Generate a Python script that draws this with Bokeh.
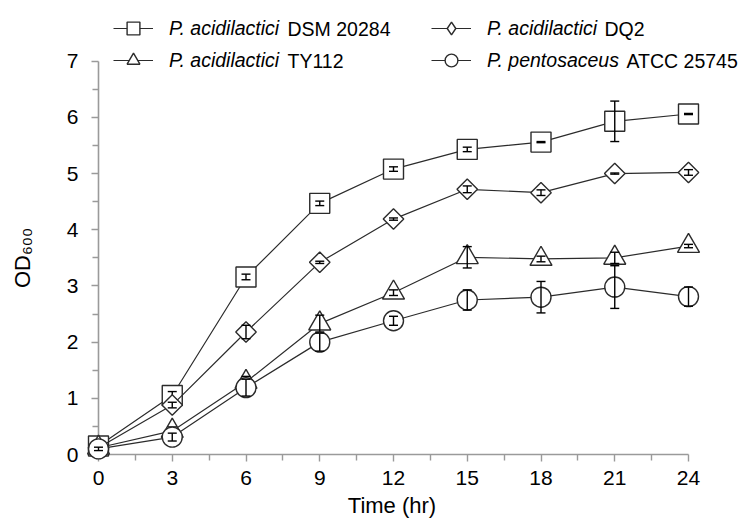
import math

from bokeh.embed import file_html
from bokeh.resources import INLINE
from bokeh.plotting import figure
from bokeh.models import (ColumnDataSource, FixedTicker, Label, Legend,
                          LegendItem, Range1d)

# Sampling times (hr)
time_hr = [0, 3, 6, 9, 12, 15, 18, 21, 24]

# Mean OD600 for each strain
od_dsm20284 = [0.15, 1.05, 3.16, 4.47, 5.08, 5.43, 5.56, 5.93, 6.06]
od_dq2 = [0.12, 0.88, 2.18, 3.42, 4.19, 4.72, 4.66, 5.00, 5.02]
od_ty112 = [0.12, 0.42, 1.29, 2.33, 2.88, 3.51, 3.48, 3.50, 3.71]
od_atcc25745 = [0.10, 0.31, 1.19, 2.00, 2.38, 2.75, 2.80, 2.98, 2.81]

# Standard deviations
sd_dsm20284 = [0.03, 0.07, 0.05, 0.04, 0.04, 0.04, 0.01, 0.36, 0.01]
sd_dq2 = [0.03, 0.05, 0.12, 0.02, 0.02, 0.06, 0.05, 0.01, 0.05]
sd_ty112 = [0.03, 0.07, 0.10, 0.15, 0.05, 0.19, 0.05, 0.10, 0.03]
sd_atcc25745 = [0.03, 0.07, 0.15, 0.16, 0.08, 0.18, 0.28, 0.38, 0.17]

x_ticks = [0, 3, 6, 9, 12, 15, 18, 21, 24]
x_minor = [1.5, 4.5, 7.5, 10.5, 13.5, 16.5, 19.5, 22.5]
y_ticks = [0, 1, 2, 3, 4, 5, 6, 7]
y_minor = [0.5, 1.5, 2.5, 3.5, 4.5, 5.5, 6.5]

FONT = "'Liberation Sans', Arial, sans-serif"
AXIS_GREY = "#9a9a9a"
INK = "#2b2b2b"
NBSP = "\u00a0"

# Frame geometry: x 0..24 spans 98..688 px, y 0..7 spans 454..61 px
px_per_hr = 590 / 24
px_per_od = 393.3 / 7
frame_w = 740 - 98
frame_h = 454

p = figure(width=740, height=527,
           x_range=Range1d(0, frame_w / px_per_hr),
           y_range=Range1d(0, frame_h / px_per_od),
           output_backend="svg", toolbar_location=None,
           min_border_left=98, min_border_right=0,
           min_border_top=0, min_border_bottom=73)
p.outline_line_color = None
p.background_fill_color = "white"
p.border_fill_color = "white"
p.xgrid.visible = False
p.ygrid.visible = False

for ax in (p.xaxis[0], p.yaxis[0]):
    ax.axis_line_color = AXIS_GREY
    ax.axis_line_width = 1.6
    ax.major_tick_line_color = AXIS_GREY
    ax.minor_tick_line_color = AXIS_GREY
    ax.major_tick_line_width = 1.4
    ax.minor_tick_line_width = 1.4
    ax.major_tick_in = 0
    ax.minor_tick_in = 0
    ax.major_tick_out = 7
    ax.minor_tick_out = 6
    ax.major_label_text_font = FONT
    ax.major_label_text_font_size = "21px"
    ax.major_label_text_color = "black"
    ax.axis_label_text_font = FONT
    ax.axis_label_text_font_style = "normal"
    ax.axis_label_text_color = "black"

p.xaxis.bounds = (0, 24)
p.yaxis.bounds = (0, 7)
p.xaxis.ticker = FixedTicker(ticks=x_ticks, minor_ticks=x_minor)
p.yaxis.ticker = FixedTicker(ticks=y_ticks, minor_ticks=y_minor)
p.xaxis.major_label_standoff = 9
p.yaxis.major_label_standoff = 13
# axis titles are centred on the whole frame; trailing no-break spaces
# bring them back over the 0-24 / 0-7 spans of the axes
p.xaxis.axis_label = "Time (hr)" + NBSP * 9
p.xaxis.axis_label_text_font_size = "22px"
p.xaxis.axis_label_standoff = 5
p.yaxis.axis_label = "OD\u2086\u2080\u2080" + NBSP * 10
p.yaxis.axis_label_text_font_size = "22px"
p.yaxis.axis_label_standoff = 29

series = [
    ("P. acidilactici", "DSM 20284", od_dsm20284, sd_dsm20284,
     dict(marker="square", size=20, angle=0.0)),
    ("P. acidilactici", "DQ2", od_dq2, sd_dq2,
     dict(marker="square", size=14.5, angle=math.pi / 4)),
    ("P. acidilactici", "TY112", od_ty112, sd_ty112,
     dict(marker="triangle", size=22, angle=0.0)),
    ("P. pentosaceus", "ATCC 25745", od_atcc25745, sd_atcc25745,
     dict(marker="circle", size=20, angle=0.0)),
]

items = []
for species, strain, mean, sd, mk in series:
    src = ColumnDataSource(dict(
        t=time_hr, m=mean,
        lo=[a - b for a, b in zip(mean, sd)],
        hi=[a + b for a, b in zip(mean, sd)],
    ))
    line_r = p.line("t", "m", source=src, line_color=INK, line_width=1.2,
                    level="overlay")
    mark_r = p.scatter("t", "m", source=src, marker=mk["marker"],
                       size=mk["size"], angle=mk["angle"],
                       fill_color="white", line_color=INK, line_width=1.4,
                       level="overlay")
    p.segment("t", "lo", "t", "hi", source=src, line_color="black",
              line_width=1.4, level="overlay")
    p.scatter("t", "lo", source=src, marker="dash", size=9,
              line_color="black", line_width=1.4, level="overlay")
    p.scatter("t", "hi", source=src, marker="dash", size=9,
              line_color="black", line_width=1.4, level="overlay")
    if mk["marker"] == "square" and mk["angle"] != 0.0:
        # legend swatch: an upright diamond, kept outside the visible ranges
        key_r = p.scatter(x=[-50], y=[-50], marker="diamond", size=12,
                          fill_color="white", line_color=INK, line_width=1.4)
    else:
        key_r = mark_r
    items.append((species, strain, LegendItem(label=species,
                                              renderers=[line_r, key_r])))


def make_legend(entries, x, y):
    leg = Legend(items=[e[2] for e in entries], location=(x, y),
                 orientation="vertical",
                 glyph_width=40, glyph_height=32, label_height=32,
                 label_standoff=16, spacing=0, padding=0, margin=0,
                 border_line_color=None, background_fill_alpha=0,
                 label_text_font=FONT, label_text_font_size="19.5px",
                 label_text_font_style="italic", label_text_color="black")
    p.add_layout(leg)


# two legend columns above the plot area
make_legend([items[0], items[2]], 15, 378)
make_legend([items[1], items[3]], 333, 378)

# strain names in upright type after the italic species names
strain_pos = [(189, 426), (506, 426), (189, 394), (528, 394)]
for (species, strain, _), (sx, sy) in zip(items, strain_pos):
    p.add_layout(Label(x=sx, y=sy, x_units="screen", y_units="screen",
                       text=strain, text_font=FONT,
                       text_font_size="19.5px", text_baseline="middle",
                       text_color="black"))

open("out.html", "w").write(file_html(p, INLINE))
